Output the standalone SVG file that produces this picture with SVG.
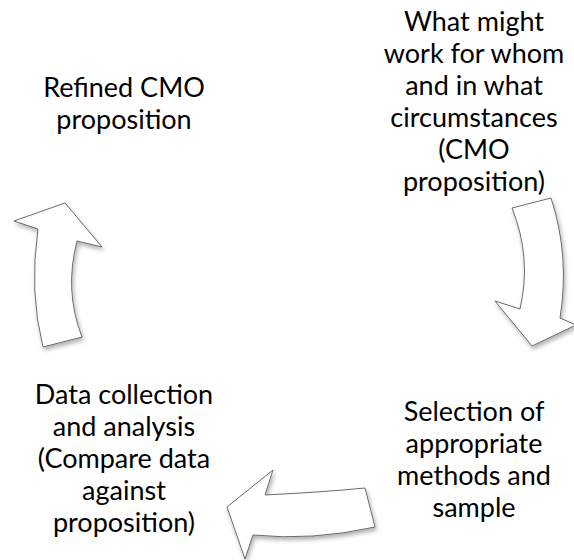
<svg xmlns="http://www.w3.org/2000/svg" width="574" height="560" viewBox="0 0 574 560">
  <style>
    .label { font-family: Lato, "Liberation Sans", sans-serif; font-size: 27px; fill: #000; text-anchor: middle; }
    .arrow { fill: #fff; stroke: #6b6b6b; stroke-width: 1; stroke-linejoin: miter; filter: url(#shadow); }
  </style>
  <defs>
    <filter id="shadow" x="-30%" y="-30%" width="160%" height="160%">
      <feDropShadow dx="1.5" dy="3" stdDeviation="2" flood-color="#000" flood-opacity="0.3"/>
    </filter>
  </defs>
  <rect width="574" height="560" fill="#fff"/>

  <g id="connectors">
    <!-- down arrow on the right -->
    <path class="arrow" d="M512,208 Q532,258 520,309 L495,301 L532,346 L576,325 L560,318 Q570,256 551,198 Z"/>
    <!-- left-pointing arrow at the bottom -->
    <path class="arrow" d="M375,527 Q312,541 253,535 L245,559 L227,507 L273,470 L265,495 Q325,492 365,488 Z"/>
    <!-- up arrow on the left -->
    <path class="arrow" d="M43,347 Q29,292 38,229 L14,221 L65,203 L102,247 L77,241 Q64,291 82,337 Z"/>
  </g>

  <g id="node-proposition">
    <text class="label" x="474" y="31">What might</text>
    <text class="label" x="474" y="63">work for whom</text>
    <text class="label" x="474" y="95">and in what</text>
    <text class="label" x="474" y="127">circumstances</text>
    <text class="label" x="474" y="159">(CMO</text>
    <text class="label" x="474" y="191">proposition)</text>
  </g>

  <g id="node-selection">
    <text class="label" x="474" y="421">Selection of</text>
    <text class="label" x="474" y="453">appropriate</text>
    <text class="label" x="474" y="485">methods and</text>
    <text class="label" x="474" y="517">sample</text>
  </g>

  <g id="node-data">
    <text class="label" x="124" y="404">Data collection</text>
    <text class="label" x="124" y="436">and analysis</text>
    <text class="label" x="124" y="468">(Compare data</text>
    <text class="label" x="124" y="500">against</text>
    <text class="label" x="124" y="532">proposition)</text>
  </g>

  <g id="node-refined">
    <text class="label" x="124" y="97">Refined CMO</text>
    <text class="label" x="124" y="129">proposition</text>
  </g>
</svg>
